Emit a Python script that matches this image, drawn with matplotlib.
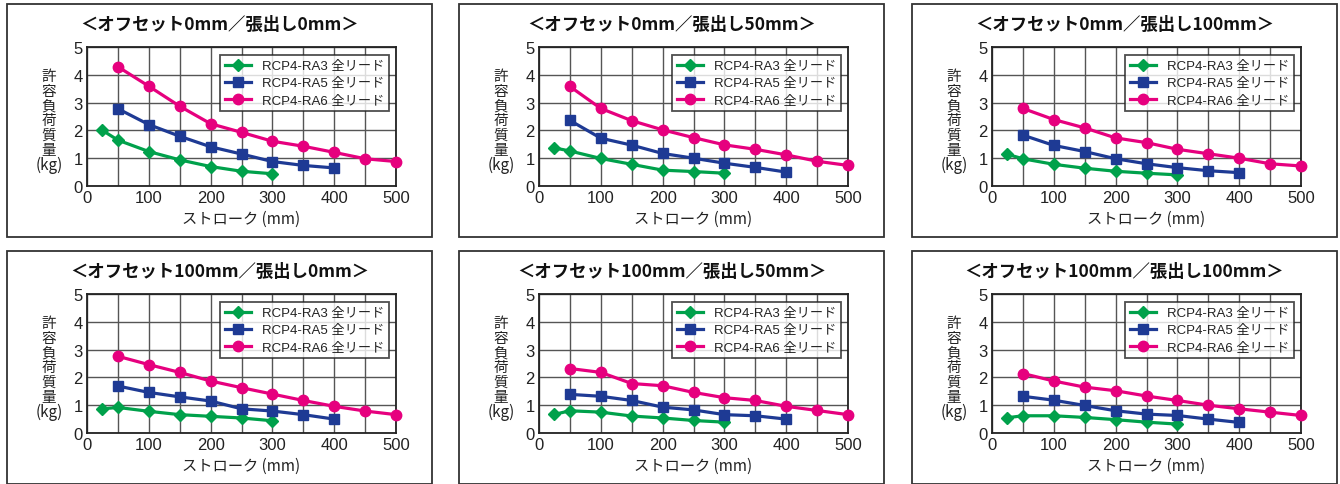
import matplotlib
matplotlib.use("Agg")
import matplotlib.pyplot as plt
from matplotlib.patches import Rectangle

plt.rcParams['font.family'] = ['Liberation Sans', 'Noto Sans CJK JP', 'DejaVu Sans']

# ---- data ----
titles = [
    "＜オフセット0mm／張出し0mm＞",
    "＜オフセット0mm／張出し50mm＞",
    "＜オフセット0mm／張出し100mm＞",
    "＜オフセット100mm／張出し0mm＞",
    "＜オフセット100mm／張出し50mm＞",
    "＜オフセット100mm／張出し100mm＞",
]
series_names = ["RCP4-RA3 全リード", "RCP4-RA5 全リード", "RCP4-RA6 全リード"]

stroke_ra3 = [25, 50, 100, 150, 200, 250, 300]
stroke_ra5 = [50, 100, 150, 200, 250, 300, 350, 400]
stroke_ra6 = [50, 100, 150, 200, 250, 300, 350, 400, 450, 500]

ra3_values = [
    [2.0, 1.65, 1.24, 0.94, 0.70, 0.53, 0.44],
    [1.37, 1.26, 0.99, 0.78, 0.57, 0.52, 0.46],
    [1.14, 0.98, 0.78, 0.64, 0.53, 0.46, 0.40],
    [0.87, 0.92, 0.78, 0.66, 0.60, 0.54, 0.44],
    [0.67, 0.80, 0.75, 0.61, 0.54, 0.45, 0.39],
    [0.55, 0.62, 0.62, 0.56, 0.48, 0.39, 0.32],
]
ra5_values = [
    [2.78, 2.21, 1.79, 1.41, 1.15, 0.88, 0.74, 0.65],
    [2.36, 1.72, 1.47, 1.17, 1.00, 0.82, 0.67, 0.50],
    [1.83, 1.46, 1.24, 0.98, 0.80, 0.66, 0.55, 0.48],
    [1.69, 1.46, 1.30, 1.15, 0.87, 0.79, 0.66, 0.50],
    [1.39, 1.32, 1.17, 0.93, 0.83, 0.66, 0.62, 0.50],
    [1.32, 1.18, 0.99, 0.80, 0.68, 0.63, 0.50, 0.38],
]
ra6_values = [
    [4.29, 3.59, 2.87, 2.24, 1.93, 1.61, 1.43, 1.21, 0.98, 0.88],
    [3.58, 2.79, 2.35, 2.02, 1.74, 1.48, 1.32, 1.12, 0.89, 0.74],
    [2.79, 2.39, 2.09, 1.73, 1.56, 1.32, 1.16, 1.00, 0.80, 0.72],
    [2.76, 2.46, 2.18, 1.87, 1.63, 1.40, 1.17, 0.96, 0.79, 0.66],
    [2.32, 2.18, 1.78, 1.70, 1.46, 1.27, 1.17, 0.96, 0.81, 0.66],
    [2.14, 1.87, 1.65, 1.52, 1.33, 1.17, 1.00, 0.87, 0.75, 0.63],
]

x_ticks = [0, 100, 200, 300, 400, 500]
y_ticks = [0, 1, 2, 3, 4, 5]
ylabel_chars = ["許", "容", "負", "荷", "質", "量", "(kg)"]
xlabel = "ストローク (mm)"

# ---- styles ----
W, H = 1340, 485
fig = plt.figure(figsize=(W / 100, H / 100), dpi=100)
fig.patch.set_facecolor("white")

colors = ["#00a14b", "#1e3a94", "#e6007e"]
markers = ["D", "s", "o"]
msizes = [6.5, 7.0, 7.5]

box_lefts = [7, 459, 912]
box_tops = [5, 252]
box_w, box_h = 425, 233

def fx(px):
    return px / W

def fy(py):
    return 1 - py / H

for i in range(6):
    r, c = divmod(i, 3)
    bl, bt = box_lefts[c], box_tops[r]
    # outer box
    fig.patches.append(Rectangle((fx(bl), fy(bt + box_h)), box_w / W, box_h / H,
                                 transform=fig.transFigure, fill=False,
                                 edgecolor="#333333", linewidth=1.3))
    ax_l = bl + 80
    ax_t = bt + 43
    ax_w, ax_h = 309, 139
    ax = fig.add_axes([fx(ax_l), fy(ax_t + ax_h), ax_w / W, ax_h / H])
    ax.set_xlim(0, 500)
    ax.set_ylim(0, 5)
    ax.set_xticks(x_ticks)
    ax.set_xticks(range(0, 501, 50), minor=True)
    ax.set_yticks(y_ticks)
    ax.grid(True, which="both", axis="x", color="#555555", linewidth=1.0)
    ax.grid(True, which="major", axis="y", color="#555555", linewidth=1.0)
    ax.set_axisbelow(True)
    ax.tick_params(which="both", length=0, labelsize=12, colors="#222222", pad=3)
    for s in ax.spines.values():
        s.set_color("#222222")
        s.set_linewidth(1.3)

    xs = [stroke_ra3, stroke_ra5, stroke_ra6]
    ys = [ra3_values[i], ra5_values[i], ra6_values[i]]
    for k in range(3):
        ax.plot(xs[k], ys[k], color=colors[k], marker=markers[k],
                markersize=msizes[k], linewidth=2.3, label=series_names[k],
                clip_on=False, zorder=3)

    leg = ax.legend(loc="upper right", bbox_to_anchor=(0.977, 0.94),
                    fontsize=9.5, frameon=True, fancybox=False,
                    edgecolor="#222222", handlelength=2.0, handletextpad=0.8,
                    borderpad=0.35, labelspacing=0.38, borderaxespad=0)
    leg.get_frame().set_linewidth(1.3)
    for t in leg.get_texts():
        t.set_color("#222222")

    # title
    fig.text(fx(bl + box_w / 2), fy(bt + 20), titles[i], ha="center", va="center",
             fontsize=12.5, fontweight="bold", family=["Noto Sans CJK JP"],
             color="#111111")
    # xlabel
    fig.text(fx(ax_l + ax_w / 2), fy(bt + 214), xlabel, ha="center", va="center",
             fontsize=11, family=["Noto Sans CJK JP"], color="#222222")
    # stacked ylabel
    for j, ch in enumerate(ylabel_chars):
        fig.text(fx(bl + 42), fy(bt + 72 + j * 14.8), ch, ha="center", va="center",
                 fontsize=10.5 if j < 6 else 11, family=["Noto Sans CJK JP"],
                 color="#222222")

fig.savefig("out.png", dpi=100)
